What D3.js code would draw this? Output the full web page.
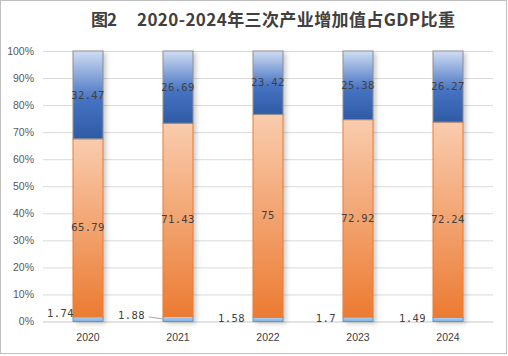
<!DOCTYPE html>
<html><head><meta charset="utf-8">
<script src="https://cdn.jsdelivr.net/npm/d3@7/dist/d3.min.js"></script>
<style>body{margin:0;background:#fff}svg{display:block}</style>
</head><body>
<script>
const years = ["2020","2021","2022","2023","2024"];
const primary = [1.74, 1.88, 1.58, 1.7, 1.49];
const secondary = [65.79, 71.43, 75, 72.92, 72.24];
const tertiary = [32.47, 26.69, 23.42, 25.38, 26.27];
const yTicks = [0,10,20,30,40,50,60,70,80,90,100];
const titleParts = ["图2", "2020-2024年三次产业增加值占GDP比重"];
// layout nudges for the small primary-industry labels [dx, dy]
const primaryNudge = [[4,-6],[-15,-4],[-5,-1],[-4,-1],[-4,-1]];

const W = 508, H = 356;
const svg = d3.select("body").append("svg").attr("width", W).attr("height", H);
const defs = svg.append("defs");
const gb = defs.append("linearGradient").attr("id","gBlue").attr("x1",0).attr("y1",0).attr("x2",0).attr("y2",1);
gb.append("stop").attr("offset","0%").attr("stop-color","#d0ddf3");
gb.append("stop").attr("offset","55%").attr("stop-color","#4673c2");
gb.append("stop").attr("offset","100%").attr("stop-color","#2f5ba5");
const go = defs.append("linearGradient").attr("id","gOrange").attr("x1",0).attr("y1",0).attr("x2",0).attr("y2",1);
go.append("stop").attr("offset","0%").attr("stop-color","#f9ccae");
go.append("stop").attr("offset","100%").attr("stop-color","#ec7b32");
const gl = defs.append("linearGradient").attr("id","gLight").attr("x1",0).attr("y1",0).attr("x2",0).attr("y2",1);
gl.append("stop").attr("offset","0%").attr("stop-color","#b7d3ef");
gl.append("stop").attr("offset","100%").attr("stop-color","#7fb0e0");
const f = defs.append("filter").attr("id","shadow").attr("x","-30%").attr("y","-10%").attr("width","160%").attr("height","120%");
f.append("feDropShadow").attr("dx",3).attr("dy",2).attr("stdDeviation",2.5).attr("flood-color","#000").attr("flood-opacity",0.22);

svg.append("rect").attr("x",0.5).attr("y",0.5).attr("width",W-2).attr("height",H-3)
  .attr("fill","#fff").attr("stroke","#bfbfbf");

const tf = "'Noto Sans CJK SC', sans-serif";
svg.append("text").attr("x",91).attr("y",26)
  .attr("font-family",tf).attr("font-weight","bold").attr("font-size",17)
  .attr("fill","#404040").attr("textLength",26).attr("lengthAdjust","spacing").text(titleParts[0]);
svg.append("text").attr("x",137).attr("y",26)
  .attr("font-family",tf).attr("font-weight","bold").attr("font-size",17)
  .attr("fill","#404040").attr("textLength",318).attr("lengthAdjust","spacing").text(titleParts[1]);

const x = d3.scaleBand().domain(years).range([43, 493]).paddingInner(2/3).paddingOuter(1/3);
const y = d3.scaleLinear().domain([0,100]).range([321.5, 51]);

const yAxis = svg.append("g").attr("transform","translate(43,0)")
  .call(d3.axisLeft(y).tickValues(yTicks).tickFormat(d => d + "%").tickSize(-450).tickPadding(9));
yAxis.select(".domain").remove();
yAxis.selectAll("line").attr("stroke","#d9d9d9");
yAxis.selectAll("text").attr("font-family","'Liberation Sans', Arial, sans-serif").attr("font-size",10.5).attr("fill","#595959");

const xAxis = svg.append("g").attr("transform","translate(0,321.5)")
  .call(d3.axisBottom(x).tickSize(0).tickPadding(12));
xAxis.select(".domain").attr("stroke","#d9d9d9");
xAxis.selectAll("text").attr("font-family","'Liberation Sans', Arial, sans-serif").attr("font-size",10.5).attr("fill","#404040");

const series = [
  {fill:"url(#gLight)", stroke:"#5b9bd5"},
  {fill:"url(#gOrange)", stroke:"#ed7d31"},
  {fill:"url(#gBlue)", stroke:"#8f8f8f"}
];
const stackData = years.map((yr,i) => ({year: yr, p: primary[i], s: secondary[i], t: tertiary[i]}));
const stacked = d3.stack().keys(["p","s","t"])(stackData);
const valueArrays = [primary, secondary, tertiary];

const bars = svg.append("g");
bars.selectAll("rect.sh").data(years).join("rect").attr("class","sh")
  .attr("x", d => x(d)).attr("width", x.bandwidth())
  .attr("y", y(100)).attr("height", y(0) - y(100))
  .attr("fill","#fff").attr("filter","url(#shadow)");

stacked.forEach((layer, k) => {
  bars.selectAll("rect.s"+k).data(layer).join("rect").attr("class","s"+k)
    .attr("x", d => x(d.data.year)).attr("width", x.bandwidth())
    .attr("y", d => y(d[1])).attr("height", d => y(d[0]) - y(d[1]))
    .attr("fill", series[k].fill).attr("stroke", series[k].stroke).attr("stroke-width",1);
});

const lf = "'DejaVu Sans Mono', 'Liberation Mono', monospace";
[1,2].forEach(k => {
  svg.append("g").selectAll("text").data(stacked[k]).join("text")
    .attr("x", d => x(d.data.year) + x.bandwidth()/2)
    .attr("y", d => (y(d[0]) + y(d[1]))/2).attr("dy","0.35em")
    .attr("text-anchor","middle").attr("font-family",lf).attr("font-size",10.5)
    .attr("fill","#404040").attr("letter-spacing",0.4)
    .text((d,i) => valueArrays[k][i]);
});

svg.append("g").selectAll("text").data(stacked[0]).join("text")
  .attr("x", (d,i) => x(d.data.year) - 3 + primaryNudge[i][0])
  .attr("y", (d,i) => (y(d[0]) + y(d[1]))/2 + primaryNudge[i][1]).attr("dy","0.35em")
  .attr("text-anchor","end").attr("font-family",lf).attr("font-size",10.5)
  .attr("fill","#404040").attr("letter-spacing",0.4)
  .text((d,i) => primary[i]);
svg.append("line")
  .attr("x1", x(years[1]) - 14).attr("x2", x(years[1]))
  .attr("y1", y(primary[1]/2) - 2).attr("y2", y(primary[1]/2))
  .attr("stroke","#a6a6a6");
</script>
</body></html>
